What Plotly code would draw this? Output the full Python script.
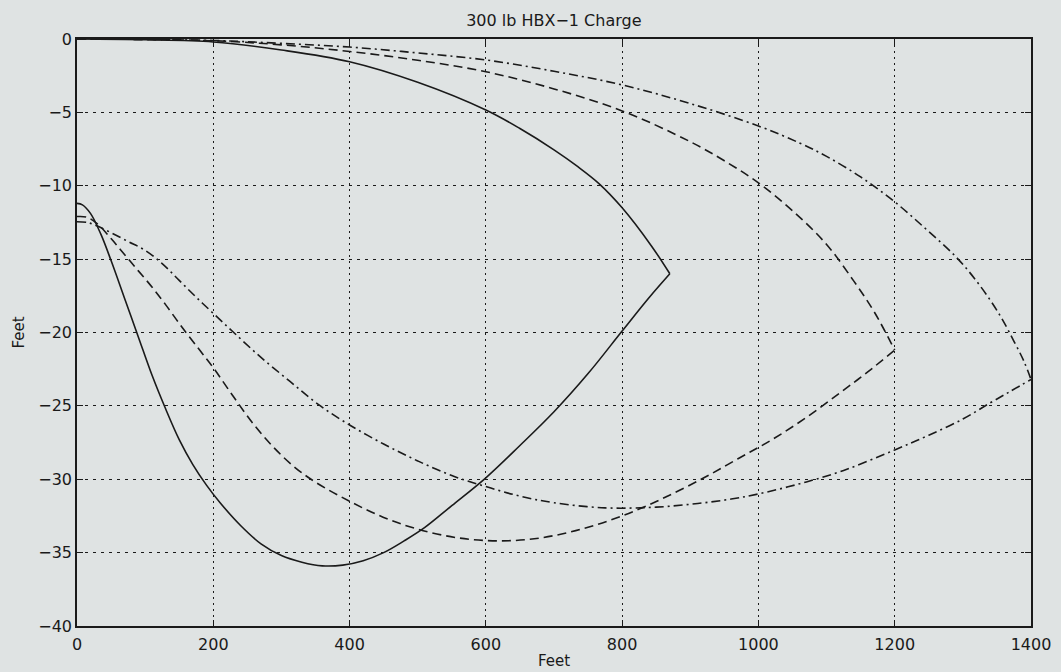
import plotly.graph_objects as go

# Solid curve: upper branch (near surface) and lower branch, meeting at the tip
solid_upper_x = [0, 100, 200, 300, 400, 500, 600, 650, 700, 735, 766, 800, 843, 870]
solid_upper_y = [0, -0.05, -0.2, -0.75, -1.55, -2.95, -4.84, -6.1, -7.55, -8.7, -9.85, -11.5, -14.1, -16.0]
solid_lower_x = [0, 8, 20, 35, 50, 70, 90, 110, 130, 150, 170, 190, 210, 240, 270, 300, 330, 360,
                 390, 420, 450, 480, 510, 550, 600, 650, 700, 750, 800, 840, 870]
solid_lower_y = [-11.2, -11.3, -11.9, -13.3, -15.1, -17.7, -20.3, -22.9, -25.2, -27.3, -29.0, -30.4,
                 -31.6, -33.15, -34.4, -35.2, -35.65, -35.9, -35.85, -35.55, -35.0, -34.2, -33.3, -31.8,
                 -29.9, -27.7, -25.4, -22.8, -19.9, -17.6, -16.0]

# Dashed curve
dashed_upper_x = [0, 200, 300, 400, 500, 600, 700, 800, 900, 950, 1000, 1050, 1100, 1140, 1170, 1200]
dashed_upper_y = [0, -0.12, -0.4, -0.85, -1.45, -2.23, -3.4, -4.9, -7.0, -8.3, -9.8, -11.7, -14.0, -16.5, -18.6, -21.2]
dashed_lower_x = [0, 15, 30, 50, 70, 90, 110, 130, 155, 180, 200, 230, 260, 290, 320, 350, 400, 450,
                  500, 560, 621, 680, 740, 800, 860, 920, 970, 1020, 1070, 1120, 1160, 1200]
dashed_lower_y = [-12.1, -12.15, -12.6, -13.6, -14.7, -15.8, -16.9, -18.1, -19.7, -21.2, -22.4, -24.4,
                  -26.3, -27.9, -29.2, -30.2, -31.5, -32.6, -33.4, -34.0, -34.2, -34.0, -33.4, -32.5,
                  -31.3, -29.9, -28.6, -27.3, -25.8, -24.1, -22.7, -21.2]

# Dash-dot curve
dashdot_upper_x = [0, 200, 300, 400, 500, 600, 700, 800, 900, 1000, 1061, 1100, 1150, 1200, 1247,
                   1291, 1325, 1354, 1375, 1390, 1400]
dashdot_upper_y = [0, -0.1, -0.3, -0.55, -0.95, -1.43, -2.2, -3.13, -4.4, -5.93, -7.1, -8.0, -9.4,
                   -11.1, -13.0, -14.9, -16.8, -18.8, -20.6, -22.0, -23.2]
dashdot_lower_x = [0, 15, 30, 50, 75, 100, 125, 150, 175, 200, 230, 270, 313, 354, 400, 450, 500, 550,
                   600, 650, 700, 775, 850, 911, 960, 1000, 1061, 1125, 1200, 1250, 1300, 1340, 1370, 1400]
dashdot_lower_y = [-12.45, -12.5, -12.75, -13.2, -13.8, -14.4, -15.3, -16.45, -17.6, -18.7, -20.0,
                   -21.7, -23.35, -24.9, -26.3, -27.6, -28.75, -29.75, -30.5, -31.15, -31.6, -31.95,
                   -31.9, -31.65, -31.35, -31.0, -30.3, -29.4, -28.0, -27.0, -25.9, -24.8, -24.0, -23.2]

x_ticks = [0, 200, 400, 600, 800, 1000, 1200, 1400]
y_ticks = [0, -5, -10, -15, -20, -25, -30, -35, -40]

INK = "#1a1a1a"
BG = "#dfe3e3"
FONT = "DejaVu Sans"

fig = go.Figure()

styles = [
    (solid_upper_x, solid_upper_y, "solid"),
    (solid_lower_x, solid_lower_y, "solid"),
    (dashed_upper_x, dashed_upper_y, "9px,5px"),
    (dashed_lower_x, dashed_lower_y, "9px,5px"),
    (dashdot_upper_x, dashdot_upper_y, "9px,4px,2px,4px"),
    (dashdot_lower_x, dashdot_lower_y, "9px,4px,2px,4px"),
]
for xs, ys, dash in styles:
    fig.add_trace(go.Scatter(
        x=xs, y=ys, mode="lines",
        line=dict(color=INK, width=1.6, dash=dash, shape="spline", smoothing=1.0),
        showlegend=False, hoverinfo="skip",
    ))

axis_common = dict(
    showline=True, linecolor=INK, linewidth=1.6, mirror="ticks",
    ticks="inside", ticklen=6, tickcolor=INK, tickwidth=1.4,
    showgrid=True, gridcolor=INK, gridwidth=1,
    zeroline=False, automargin=False,
    tickfont=dict(family=FONT, size=16, color=INK),
)

fig.update_layout(
    width=1061, height=672,
    margin=dict(l=77, r=30, t=39, b=46),
    paper_bgcolor=BG, plot_bgcolor=BG,
    title=dict(text="300 lb HBX\u22121 Charge", x=0.522, xanchor="center", y=0.97, yanchor="middle",
               font=dict(family=FONT, size=16, color=INK)),
    xaxis=dict(range=[0, 1400], tickvals=x_ticks, ticktext=[str(v) for v in x_ticks],
               griddash="2px,4px", ticklabelstandoff=3,
               title=dict(text="Feet", font=dict(family=FONT, size=15, color=INK), standoff=2),
               **axis_common),
    yaxis=dict(range=[-40, 0], tickvals=y_ticks,
               ticktext=[("\u2212" + str(-v)) if v < 0 else str(v) for v in y_ticks],
               griddash="3px,5px",
               title=dict(text="Feet", font=dict(family=FONT, size=15, color=INK), standoff=10),
               **axis_common),
)

fig.write_html("out.html")
